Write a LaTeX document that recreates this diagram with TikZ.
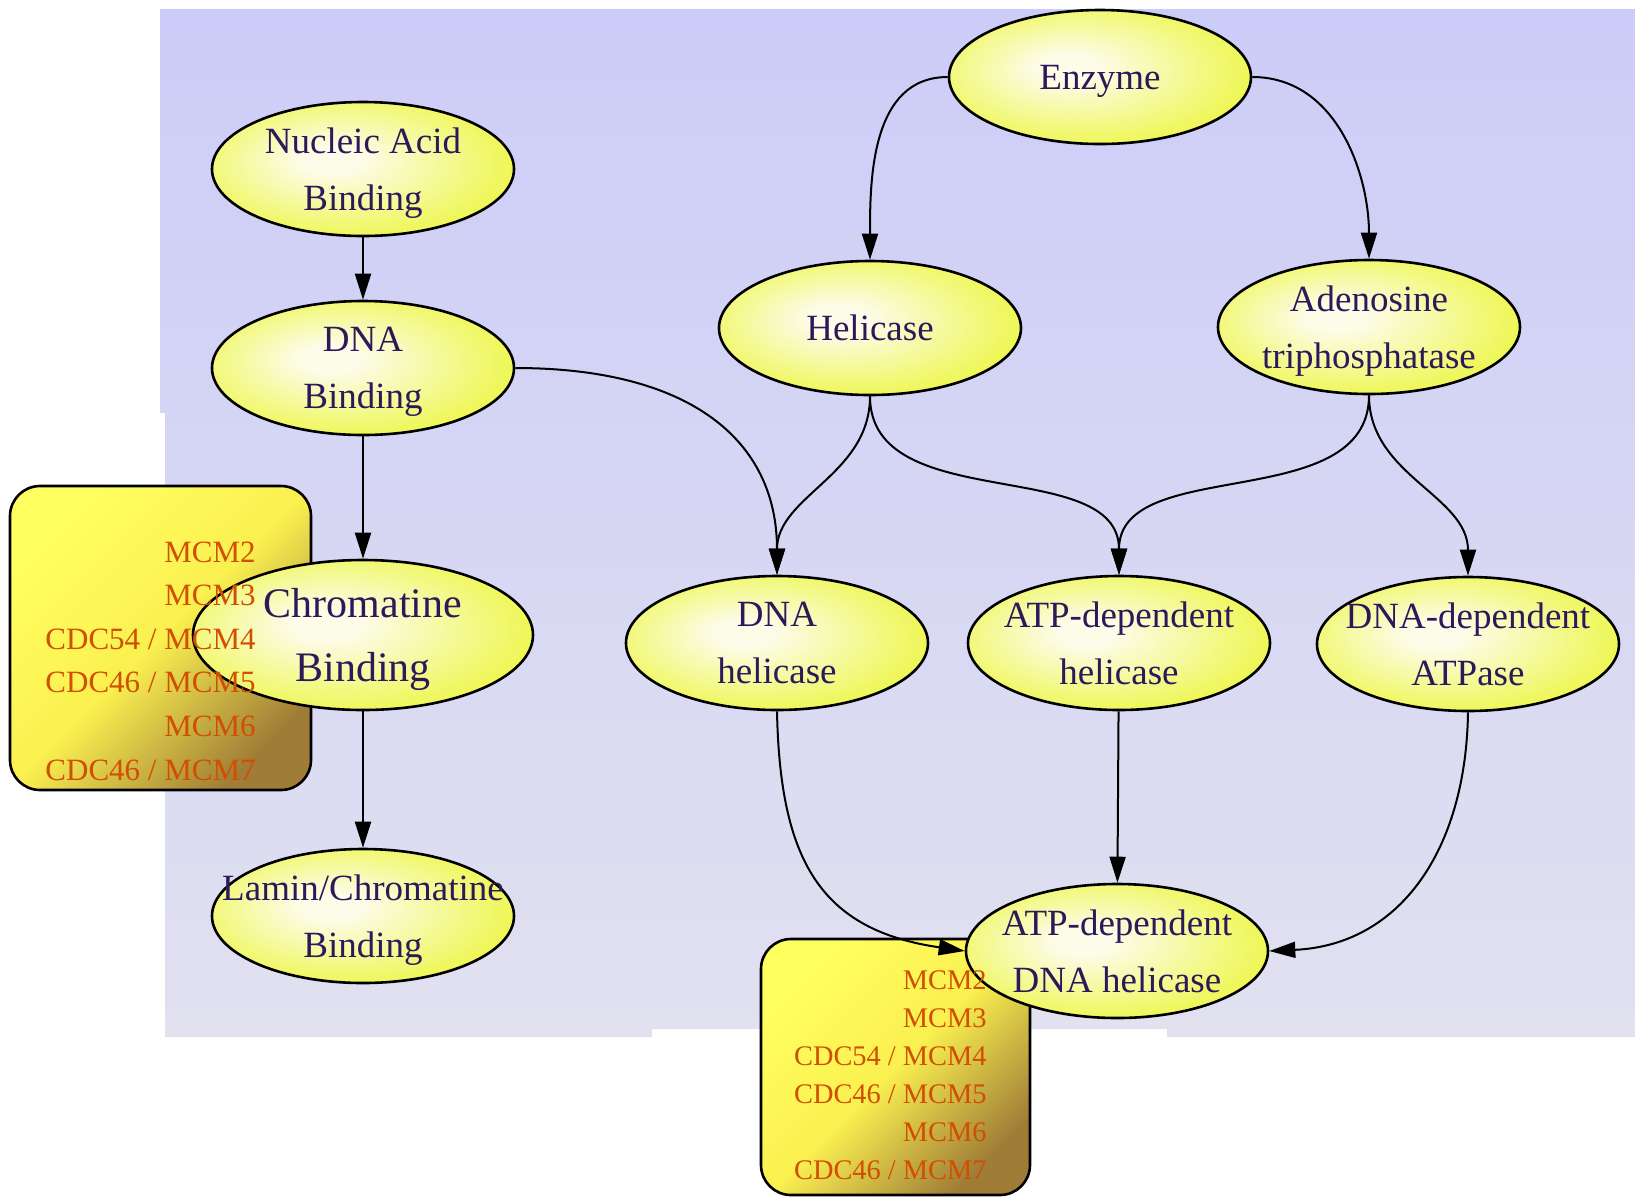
\documentclass[tikz,border=0pt]{standalone}
\usepackage{fontspec}
\setmainfont{Liberation Serif}
\usetikzlibrary{shapes.geometric,arrows.meta}
\definecolor{ink}{RGB}{45,25,90}
\definecolor{geneorange}{RGB}{210,78,0}
\definecolor{bgtop}{RGB}{204,204,248}
\definecolor{bgbot}{RGB}{225,225,240}
\definecolor{blobin}{RGB}{252,252,232}
\definecolor{blobmid}{RGB}{242,248,120}
\definecolor{blobout}{RGB}{228,244,0}
\definecolor{boxtop}{RGB}{255,255,95}
\definecolor{boxmid}{RGB}{250,240,80}
\definecolor{boxbot}{RGB}{160,125,55}
\pgfdeclareradialshading{blob}{\pgfpoint{-6bp}{4bp}}{color(0bp)=(blobin); color(5bp)=(blobin); color(22bp)=(blobmid); color(42bp)=(blobout); color(50bp)=(blobout)}

\begin{document}
\begin{tikzpicture}[x=0.5pt, y=-0.5pt,
  term/.style={ellipse, draw, line width=1.3pt, shade, shading=blob, minimum width=151pt, minimum height=67pt, inner xsep=-25pt, inner ysep=-4pt, text depth=0pt, align=center, text=ink, font=\fontsize{18.5}{28.7}\selectfont},
  big/.style={minimum width=170pt, minimum height=75pt, font=\fontsize{21}{32}\selectfont},
  genebox/.style={rectangle, draw, line width=1.3pt, rounded corners=15pt, top color=boxtop, bottom color=boxbot, middle color=boxmid, shading angle=45},
  genes/.style={text=geneorange, align=right, inner sep=0pt, anchor=east},
  link/.style={line width=1pt, -{Triangle[length=13pt,width=8pt]}}]
\useasboundingbox (0,0) rectangle (1635,1196);
\shade[top color=bgtop, bottom color=bgbot] (160,9) -| (1635,1037) -| (1167,1029) -| (652,1037) -| (165,413) -- (160,413) -- cycle;

\node[genebox, minimum width=150.5pt, minimum height=152pt] (BOXA) at (160.5,638) {};
\node[genebox, minimum width=134.5pt, minimum height=128pt] (BOXB) at (895.5,1067) {};

\node[term] (ENZ) at (1100,77) {Enzyme};
\node[term] (NAB) at (363,169) {Nucleic Acid\\Binding};
\node[term] (HEL) at (870,328) {Helicase};
\node[term] (ADE) at (1369,327) {Adenosine\\triphosphatase};
\node[term] (DB) at (363,368) {DNA\\Binding};
\node[term, big] (CB) at (363,635) {Chromatine\\Binding};
\node[term] (DH) at (777,643) {DNA\\helicase};
\node[term] (ATPH) at (1119,643) {ATP-dependent\\helicase};
\node[term] (DDA) at (1468,644) {DNA-dependent\\ATPase};
\node[term] (LCB) at (363,916) {Lamin/Chromatine\\Binding};
\node[term] (ADH) at (1117,951) {ATP-dependent\\DNA helicase};

\draw[link] (ENZ.west) to[out=180, in=90] (HEL.north);
\draw[link] (ENZ.east) to[out=0, in=90] (ADE.north);
\draw[link] (NAB) -- (DB);
\draw[link] (DB) -- (CB);
\draw[link] (CB) -- (LCB);
\draw[link] (DB.east) .. controls (690,368) and (777,440) .. (DH.north);
\draw[link] (HEL.south) to[out=-90, in=90] (DH.north);
\draw[link] (HEL.south) to[out=-90, in=90] (ATPH.north);
\draw[link] (ADE.south) to[out=-90, in=90] (ATPH.north);
\draw[link] (ADE.south) to[out=-90, in=90] (DDA.north);
\draw[link] (DH.south) .. controls (780,860) and (820,930) .. (ADH.west);
\draw[link] (ATPH) -- (ADH);
\draw[link] (DDA.south) .. controls (1466,850) and (1400,945) .. (ADH.east);

\node[genes, font=\fontsize{15.5}{21.8}\selectfont] (LISTA) at (256,661) {MCM2\\MCM3\\CDC54 / MCM4\\CDC46 / MCM5\\MCM6\\CDC46 / MCM7};
\node[genes, font=\fontsize{14.2}{19}\selectfont] (LISTB) at (987,1075) {MCM2\\MCM3\\CDC54 / MCM4\\CDC46 / MCM5\\MCM6\\CDC46 / MCM7};
\end{tikzpicture}
\end{document}
